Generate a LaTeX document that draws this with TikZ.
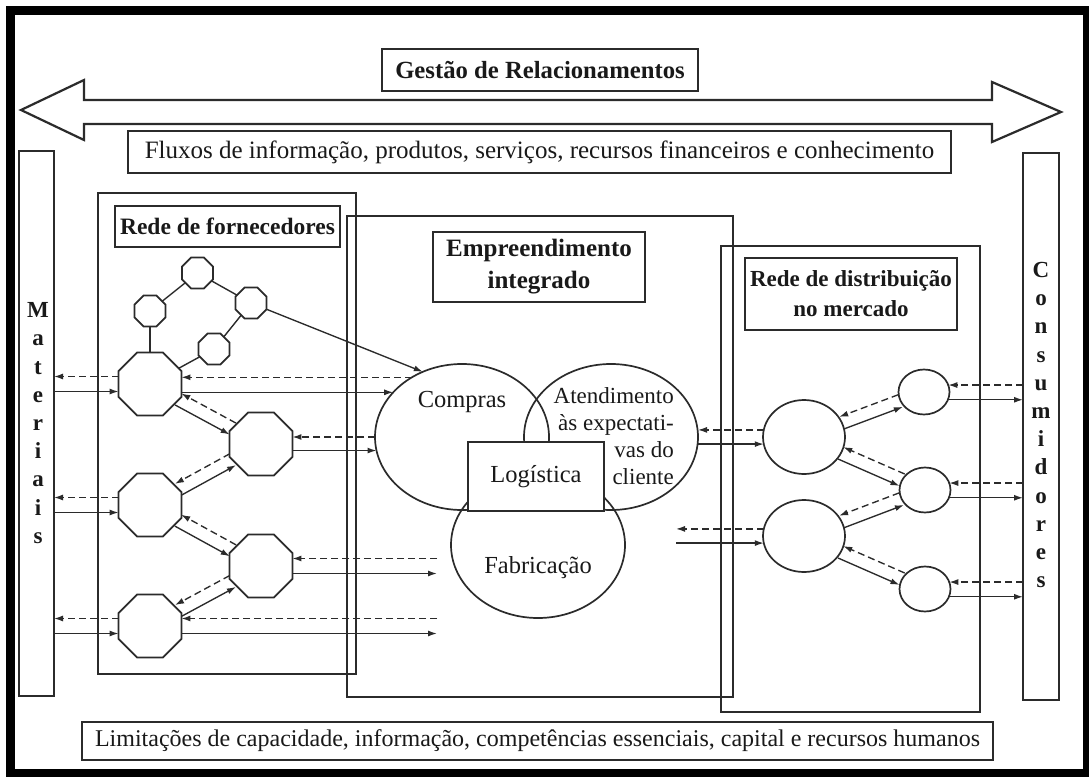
\documentclass[tikz,border=0pt]{standalone}
\usepackage{fontspec}
\setmainfont{Liberation Serif}
\usetikzlibrary{arrows.meta,calc,shapes.geometric}

\definecolor{ink}{gray}{0.17}
\definecolor{txt}{gray}{0.1}

% parallel pair of links: solid flow from #1 to #2, dashed return from #2 to #1
\newcommand\pairlink[4]{%
  \draw[flow, shorten <=#3, shorten >=#4] ($(#1)!6.5pt!-90:(#2)$) -- ($(#2)!6.5pt!90:(#1)$);
  \draw[info, shorten <=#4, shorten >=#3] ($(#2)!6.5pt!-90:(#1)$) -- ($(#1)!6.5pt!90:(#2)$);
}

\begin{document}
\begin{tikzpicture}[x=1pt,y=-1pt,
  every node/.style={text=txt},
  box/.style={draw=ink, line width=1.9pt, inner sep=0pt, outer sep=0pt, anchor=north west},
  lbl/.style={draw=ink, line width=1.9pt, inner sep=0pt, align=center},
  bigoct/.style={draw=ink, line width=1.7pt, regular polygon, regular polygon sides=8,
                 minimum size=68pt, inner sep=0pt, outer sep=0pt},
  smalloct/.style={bigoct, minimum size=33.5pt},
  oval/.style={draw=ink, line width=1.7pt, ellipse, inner sep=0pt, outer sep=0pt},
  flow/.style={draw=ink, line width=1.35pt, -{Latex[length=9pt,width=6pt]}},
  info/.style={flow, dash pattern=on 7pt off 4pt},
  link/.style={draw=ink, line width=1.4pt},
  body/.style={font=\fontsize{24.5}{27}\selectfont},
  head/.style={font=\fontsize{23}{30}\selectfont\bfseries},
  vert/.style={align=center, inner sep=0pt, font=\fontsize{23}{28.2}\selectfont\bfseries},
]
\useasboundingbox (0,0) rectangle (1089,778);
\fill[white] (0,0) rectangle (1089,778);

% outer frame
\draw[line width=8.5pt, black] (10.5,10.5) rectangle (1087,773);

% double block arrow
\draw[ink, line width=2.2pt, line join=miter]
  (21,110) -- (84,80) -- (84,100) -- (992,100) -- (992,82) -- (1061,112)
  -- (992,142) -- (992,124) -- (84,124) -- (84,140) -- cycle;

% banner boxes
\node[lbl, head, font=\fontsize{24.7}{30}\selectfont\bfseries, minimum width=316pt, minimum height=42pt]
  (rel) at (540,70) {Gestão de Relacionamentos};
\node[lbl, font=\fontsize{25}{30}\selectfont, minimum width=823pt, minimum height=42pt] (flux) at (539.5,152)
  {Fluxos de informação, produtos, serviços, recursos financeiros e conhecimento};
\node[lbl, font=\fontsize{24}{30}\selectfont, minimum width=911pt, minimum height=38pt] (lim) at (537.5,741)
  {Limitações de capacidade, informação, competências essenciais, capital e recursos humanos};

% side bars
\node[box, minimum width=35pt, minimum height=545pt] (mat) at (19,151) {};
\node[vert] (mattxt) at (38,423) {M\\a\\t\\e\\r\\i\\a\\i\\s};
\node[box, minimum width=36pt, minimum height=547pt] (cons) at (1023,153) {};
\node[vert] (constxt) at (1041,425) {C\\o\\n\\s\\u\\m\\i\\d\\o\\r\\e\\s};

% network containers
\node[box, minimum width=258pt, minimum height=481pt] (sup) at (98,193) {};
\node[box, minimum width=386pt, minimum height=481pt] (ent) at (347,216) {};
\node[box, minimum width=259pt, minimum height=466pt] (dist) at (721,246) {};

\node[lbl, head, font=\fontsize{23.5}{30}\selectfont\bfseries, minimum width=225pt, minimum height=41pt]
  (suptitle) at (227.5,226.5) {Rede de fornecedores};
\node[lbl, head, font=\fontsize{25}{32}\selectfont\bfseries, minimum width=212pt, minimum height=70pt]
  (enttitle) at (539,267) {Empreendimento\\integrado};
\node[lbl, head, minimum width=212pt, minimum height=72pt] (disttitle) at (851,294) {Rede de distribuição\\no mercado};

% supplier network
\node[smalloct] (o1) at (197.5,273) {};
\node[smalloct] (o2) at (150,311) {};
\node[smalloct] (o3) at (251,303) {};
\node[smalloct] (o4) at (214,349) {};
\node[bigoct] (b1) at (150,384) {};
\node[bigoct] (b2) at (261,444) {};
\node[bigoct] (b3) at (150,505) {};
\node[bigoct] (b4) at (261,566) {};
\node[bigoct] (b5) at (150,626) {};

\draw[link] (o2) -- (o1);
\draw[link] (o1) -- (o3);
\draw[link] (o3) -- (o4);
\draw[link] (o2) -- (b1);
\draw[link] (o4) -- (b1);

% integrated enterprise
\node[oval, minimum width=174pt, minimum height=146pt] (compras) at (462,437) {};
\node[oval, minimum width=174pt, minimum height=146pt] (atend) at (611,437) {};
\node[oval, minimum width=174pt, minimum height=146pt] (fabr) at (538,545) {};
\node[lbl, body, fill=white, minimum width=136pt, minimum height=69pt] (logi) at (536,476.5) {Logística};
\node[body] (comprastxt) at (462,402) {Compras};
\node[align=right, anchor=east, inner sep=0pt, font=\fontsize{23}{27}\selectfont] (atendtxt) at (674,436)
  {Atendimento\\às expectati-\\vas do\\cliente};
\node[body] (fabrtxt) at (538,568) {Fabricação};

% distribution network
\node[oval, minimum width=82pt, minimum height=74pt] (d1) at (804,437) {};
\node[oval, minimum width=82pt, minimum height=72pt] (d2) at (804,536) {};
\node[oval, minimum width=51pt, minimum height=45pt] (s1) at (924,392) {};
\node[oval, minimum width=51pt, minimum height=45pt] (s2) at (925,490) {};
\node[oval, minimum width=51pt, minimum height=45pt] (s3) at (925,589) {};

\coordinate (fabend) at (437,560);
\coordinate (distend) at (676,536);

% materials <-> first-tier suppliers
\foreach \b in {b1,b3,b5} {
  \draw[info] ([yshift=7.5pt]\b.west) -- ([yshift=7.5pt]\b.west -| mat.east);
  \draw[flow] ([yshift=-7.5pt]\b.west -| mat.east) -- ([yshift=-7.5pt]\b.west);
}

% supplier tiers
\pairlink{b1}{b2}{32pt}{32pt}
\pairlink{b3}{b2}{32pt}{32pt}
\pairlink{b3}{b4}{32pt}{32pt}
\pairlink{b5}{b4}{32pt}{32pt}

% suppliers -> purchasing
\draw[flow] (o3.-22) -- (compras.121);
\draw[info] (compras.130.3) -- (compras.130.3 -| b1.east);
\draw[flow] (compras.147.2 -| b1.east) -- (compras.147.2);
\draw[info] (compras.180) -- (compras.180 -| b2.east);
\draw[flow] (compras.189.6 -| b2.east) -- (compras.189.6);

% suppliers -> manufacturing
\foreach \b in {b4,b5} {
  \draw[info] ([yshift=7.5pt]\b.east -| fabend) -- ([yshift=7.5pt]\b.east);
  \draw[flow] ([yshift=-7.5pt]\b.east) -- ([yshift=-7.5pt]\b.east -| fabend);
}

% enterprise -> distribution
\draw[info] (d1.170) -- (d1.170 -| atend.east);
\draw[flow] (d1.190 -| atend.east) -- (d1.190);
\draw[info] (d2.170) -- (d2.170 -| distend);
\draw[flow] (d2.190 -| distend) -- (d2.190);

% distribution tiers
\pairlink{d1}{s1}{40pt}{25pt}
\pairlink{d1}{s2}{40pt}{25pt}
\pairlink{d2}{s2}{40pt}{25pt}
\pairlink{d2}{s3}{40pt}{25pt}

% retailers <-> consumers
\foreach \s in {s1,s2,s3} {
  \draw[info] (\s.16 -| cons.west) -- (\s.16);
  \draw[flow] (\s.-18) -- (\s.-18 -| cons.west);
}
\end{tikzpicture}
\end{document}
